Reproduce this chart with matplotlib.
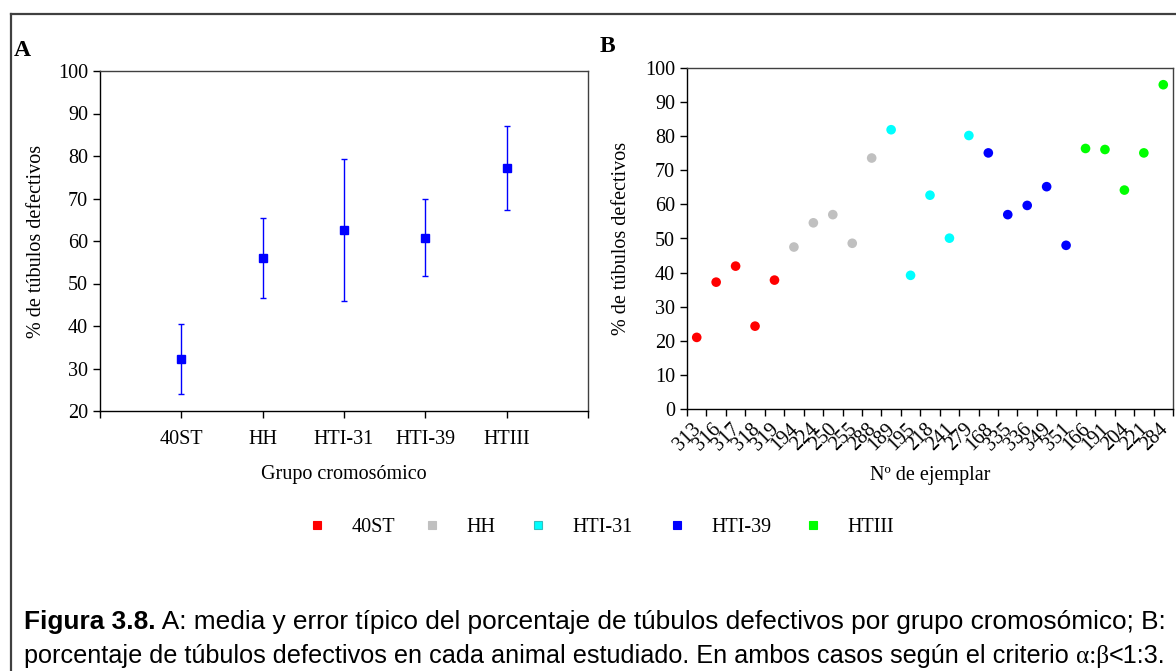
import matplotlib
matplotlib.use("Agg")
import matplotlib.pyplot as plt
from matplotlib.lines import Line2D
from matplotlib import font_manager
from matplotlib.transforms import ScaledTranslation

# ---------------- data ----------------
groups = ["40ST", "HH", "HTI-31", "HTI-39", "HTIII"]
group_means = [32.2, 56.0, 62.5, 60.7, 77.1]
group_err_low = [24.0, 46.7, 45.9, 51.8, 67.3]
group_err_high = [40.4, 65.3, 79.4, 69.8, 87.1]

animals = ["313", "316", "317", "318", "319",
           "194", "224", "250", "255", "288",
           "189", "195", "218", "241", "279",
           "168", "335", "336", "349", "351",
           "166", "191", "204", "221", "284"]
animal_values = [21.0, 37.2, 41.9, 24.3, 37.8,
                 47.5, 54.6, 57.0, 48.6, 73.6,
                 81.9, 39.2, 62.7, 50.1, 80.2,
                 75.1, 57.0, 59.7, 65.2, 48.0,
                 76.4, 76.1, 64.2, 75.1, 95.1]
animal_groups = ["40ST"] * 5 + ["HH"] * 5 + ["HTI-31"] * 5 + ["HTI-39"] * 5 + ["HTIII"] * 5

group_colors = {"40ST": "#FF0000", "HH": "#C0C0C0", "HTI-31": "#00FFFF",
                "HTI-39": "#0000FF", "HTIII": "#00FF00"}

# ---------------- style ----------------
SERIF = ["Liberation Serif", "DejaVu Serif"]
plt.rcParams["font.family"] = SERIF
plt.rcParams["font.size"] = 14

W, H = 1176, 671
fig = plt.figure(figsize=(W / 100, H / 100), dpi=100)

def fx(px):
    return px / W

def fy(py):
    return 1 - py / H

# outer frame
fig.add_artist(Line2D([fx(11), fx(11)], [fy(14), 0], color="#404040", lw=1.6))
fig.add_artist(Line2D([fx(11), 1], [fy(14), fy(14)], color="#404040", lw=1.6))

# ---------------- panel A ----------------
axA = fig.add_axes([fx(100), fy(411), fx(488), 340 / H])
xA = list(range(1, len(groups) + 1))
lower = [m - l for m, l in zip(group_means, group_err_low)]
upper = [h - m for m, h in zip(group_means, group_err_high)]
axA.errorbar(xA, group_means, yerr=[lower, upper], fmt="s", color="#0000FF",
             ecolor="#0000FF", elinewidth=1.0, capsize=2.4, capthick=1.0,
             markersize=6)
axA.set_xlim(0, 6)
axA.set_ylim(20, 100)
axA.set_yticks(range(20, 101, 10))
axA.set_xticks(range(0, 7))
axA.set_xticklabels([""] + groups + [""])
axA.set_xlabel("Grupo cromosómico", fontsize=14.5, labelpad=11)
axA.set_ylabel("% de túbulos defectivos", fontsize=14.5, labelpad=9)
axA.tick_params(axis="both", direction="out", length=5, width=1, labelsize=14.5,
                colors="black")
axA.tick_params(axis="x", pad=9)
for s in axA.spines.values():
    s.set_linewidth(1.0)
    s.set_color("black")
axA.spines["top"].set_color("#404040")
axA.spines["right"].set_color("#404040")
fig.text(fx(14), fy(50), "A", fontsize=17, fontweight="bold", va="center", ha="left")

# ---------------- panel B ----------------
axB = fig.add_axes([fx(687), fy(409), fx(486), 341 / H])
xB = [i + 0.5 for i in range(len(animals))]
axB.scatter(xB, animal_values, c=[group_colors[g] for g in animal_groups],
            s=48, marker="o", linewidths=0, zorder=3)
axB.set_xlim(0, len(animals))
axB.set_ylim(0, 100)
axB.set_yticks(range(0, 101, 10))
axB.set_xticks(range(0, len(animals) + 1))
axB.set_xticklabels([])
axB.set_xticks(xB, minor=True)
axB.set_xticklabels(animals, minor=True, rotation=45, ha="right", va="top",
                    rotation_mode="anchor", fontsize=14.5)
axB.tick_params(axis="x", which="minor", length=0, pad=8)
offset = ScaledTranslation(-5 / 100, 0, fig.dpi_scale_trans)
for lbl in axB.get_xticklabels(minor=True):
    lbl.set_transform(lbl.get_transform() + offset)
axB.tick_params(axis="x", which="major", direction="out", length=5, width=1)
axB.tick_params(axis="y", direction="out", length=5, width=1, labelsize=14.5)
axB.set_xlabel("Nº de ejemplar", fontsize=14.5, labelpad=8)
axB.set_ylabel("% de túbulos defectivos", fontsize=14.5, labelpad=10)
for s in axB.spines.values():
    s.set_linewidth(1.0)
    s.set_color("black")
axB.spines["top"].set_color("#404040")
axB.spines["right"].set_color("#404040")
fig.text(fx(600), fy(47), "B", fontsize=17, fontweight="bold", va="center", ha="left")

# ---------------- legend (one entry per legend box, Excel-like spacing) ----------------
legend_marker_px = [317, 432, 538, 677, 813]
for g, mx in zip(groups, legend_marker_px):
    h = Line2D([], [], linestyle="none", marker="s", markersize=6,
               markerfacecolor=group_colors[g],
               markeredgecolor=("#30C0C0" if g == "HTI-31" else group_colors[g]),
               markeredgewidth=0.8, label=g)
    fig.legend(handles=[h], loc="center left",
               bbox_to_anchor=(fx(mx - 6), fy(527)), frameon=False,
               fontsize=14.5, handlelength=0.6, handletextpad=1.4,
               borderpad=0, borderaxespad=0)

# ---------------- caption ----------------
names = {f.name for f in font_manager.fontManager.ttflist}
CAP = ["Liberation Sans Narrow", "Liberation Sans"] if "Liberation Sans Narrow" in names \
    else ["Liberation Sans", "DejaVu Sans"]
renderer = fig.canvas.get_renderer()

def put_pieces(y_px, pieces, x0_px, size):
    arts = []
    x = fx(x0_px)
    for txt, fam, wt in pieces:
        t = fig.text(x, fy(y_px), txt, fontsize=size, family=fam, fontweight=wt,
                     ha="left", va="center")
        bb = t.get_window_extent(renderer=renderer)
        x = bb.x1 / W
        arts.append(t)
    return arts, x * W

def fit_line(y_px, pieces, x0_px, right_px, size=15):
    arts, right = put_pieces(y_px, pieces, x0_px, size)
    for a in arts:
        a.remove()
    size = size * (right_px - x0_px) / (right - x0_px)
    put_pieces(y_px, pieces, x0_px, size)

line1 = [("Figura 3.8.", CAP, "bold"),
         (" A: media y error típico del porcentaje de túbulos defectivos por grupo cromosómico; B:", CAP, "normal")]
line2 = [("porcentaje de túbulos defectivos en cada animal estudiado. En ambos casos según el criterio ", CAP, "normal"),
         ("α:β", SERIF, "normal"),
         ("<1:3.", CAP, "normal")]

fit_line(622, line1, 24, 1167)
fit_line(656, line2, 24, 1169)

fig.savefig("out.png", dpi=100)
